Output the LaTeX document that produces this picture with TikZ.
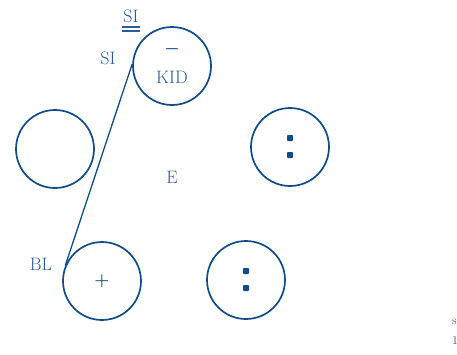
\documentclass[tikz,border=0pt]{standalone}
\usepackage{amsmath}
\usepackage{bm}
\definecolor{cline}{HTML}{0F4C8A}
\definecolor{ctext}{HTML}{2A5C98}
\begin{document}
\begin{tikzpicture}[x=1pt,y=-1pt,
  circ/.style={draw=cline,line width=1.7pt,circle,inner sep=0pt,minimum size=78pt},
  lbl/.style={text=ctext,inner sep=0pt,font=\fontsize{18}{21}\selectfont},
  sq/.style={fill=cline,rectangle,rounded corners=0.8pt,inner sep=0pt,minimum size=6pt},
  conn/.style={draw=cline,line width=1.3pt}]
\useasboundingbox (0,0) rectangle (457,354);
\node[circ] (t) at (172,66) {};
\node[circ] (l) at (55,149) {};
\node[circ] (r) at (290,147) {};
\node[circ] (bl) at (102,281) {};
\node[circ] (br) at (246,280) {};
\draw[conn] (bl.157) -- (t.177);
\node[lbl] (siu) at (131,16) {SI};
\draw[draw=ctext,line width=1.4pt] ([xshift=-1pt,yshift=-11pt]siu.west) -- ([xshift=1pt,yshift=-11pt]siu.east);
\draw[draw=ctext,line width=1.4pt] ([xshift=-1pt,yshift=-15pt]siu.west) -- ([xshift=1pt,yshift=-15pt]siu.east);
\node[lbl] (si) at (108,58) {SI};
\node[lbl,text=cline] (minus) at (172,49) {$\bm{-}$};
\node[lbl] (kid) at (172,77) {KID};
\node[lbl] (e) at (172,177) {E};
\node[lbl] (blt) at (41,264) {BL};
\node[lbl,text=cline] (plus) at (102,281) {$\bm{+}$};
\node[sq] (r1) at (290,138) {};
\node[sq] (r2) at (290,155) {};
\node[sq] (b1) at (246,271) {};
\node[sq] (b2) at (246,288) {};
\node[lbl,anchor=west,font=\fontsize{12}{14}\selectfont] (s1) at (452,322) {s};
\node[lbl,anchor=west,font=\fontsize{12}{14}\selectfont] (s2) at (452,341) {1};
\end{tikzpicture}
\end{document}
